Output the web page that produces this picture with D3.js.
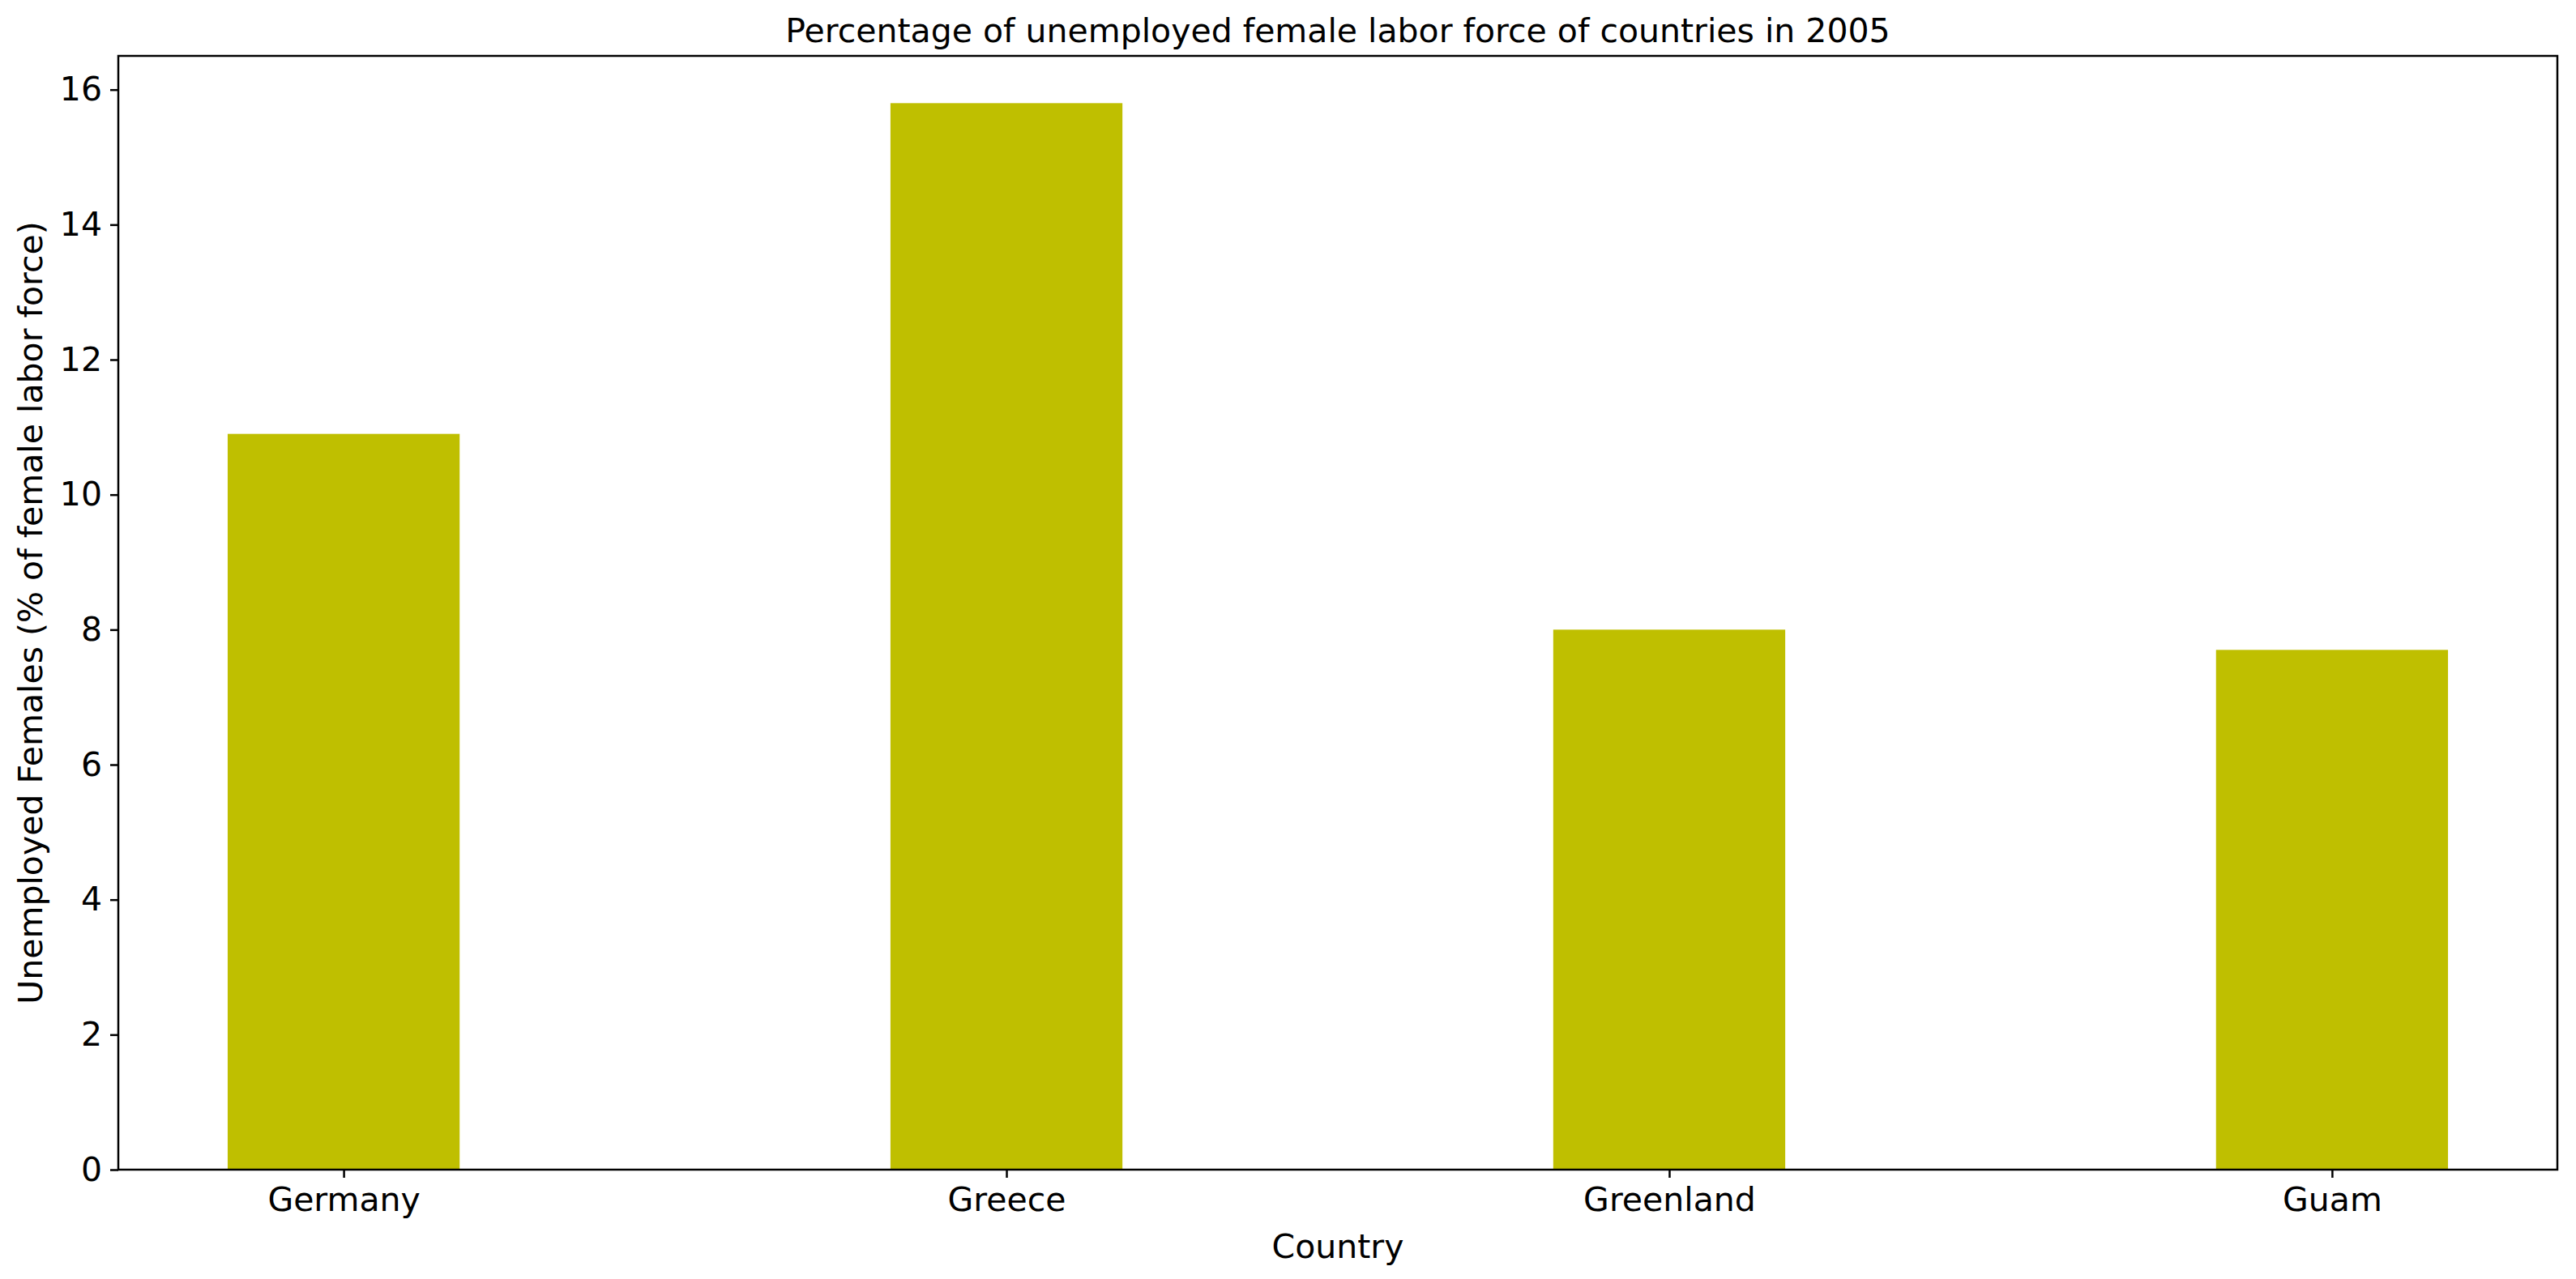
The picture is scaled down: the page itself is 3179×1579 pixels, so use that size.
<!DOCTYPE html>
<html>
<head>
<meta charset="utf-8">
<script src="https://cdn.jsdelivr.net/npm/d3@7"></script>
<style>
  body { margin: 0; background: white; }
  text { font-family: "DejaVu Sans", sans-serif; fill: black; }
</style>
</head>
<body>
<script>
// Data
const countries = ["Germany", "Greece", "Greenland", "Guam"];
const unemployed = [10.9, 15.8, 8.0, 7.7];
const yTicks = [0, 2, 4, 6, 8, 10, 12, 14, 16];

const W = 3179, H = 1579;
const margin = {left: 146, right: 23, top: 69, bottom: 135};
const innerW = W - margin.left - margin.right;
const innerH = H - margin.top - margin.bottom;

var svg = d3.select("body").append("svg")
            .attr("width", W)
            .attr("height", H);

var g = svg.append("g")
           .attr("transform", "translate(" + margin.left + "," + margin.top + ")");

// matplotlib-style positional x scale
var x = d3.scaleLinear().domain([-0.34, countries.length - 1 + 0.34]).range([0, innerW]);
var y = d3.scaleLinear().domain([0, 16.5]).range([innerH, 0]);
const barW = x(0.35) - x(0);

g.selectAll("rect.bar")
 .data(unemployed)
 .enter()
 .append("rect")
 .attr("class", "bar")
 .attr("x", function(d, i) { return x(i) - barW / 2; })
 .attr("y", function(d) { return y(d); })
 .attr("width", barW)
 .attr("height", function(d) { return innerH - y(d); })
 .style("fill", "#bfbf00");

var yAxis = g.append("g")
             .call(d3.axisLeft(y).tickValues(yTicks).tickSize(10).tickPadding(10).tickFormat(d3.format("d")));
var xAxis = g.append("g")
             .attr("transform", "translate(0," + innerH + ")")
             .call(d3.axisBottom(x).tickValues(d3.range(countries.length)).tickSize(10).tickPadding(12)
                     .tickFormat(function(i) { return countries[i]; }));

[xAxis, yAxis].forEach(function(a) {
    a.select(".domain").remove();
    a.selectAll("line").attr("stroke", "black").attr("stroke-width", 2.5);
    a.selectAll("text").attr("font-size", 41).style("font-family", "DejaVu Sans, sans-serif");
});

// frame
g.append("rect")
 .attr("width", innerW)
 .attr("height", innerH)
 .style("fill", "none")
 .style("stroke", "black")
 .style("stroke-width", 2.5);

svg.append("text")
   .attr("x", margin.left + innerW / 2)
   .attr("y", 52)
   .attr("text-anchor", "middle")
   .attr("font-size", 41)
   .text("Percentage of unemployed female labor force of countries in 2005");

svg.append("text")
   .attr("x", margin.left + innerW / 2)
   .attr("y", 1553)
   .attr("text-anchor", "middle")
   .attr("font-size", 41)
   .text("Country");

svg.append("text")
   .attr("transform", "translate(52," + (margin.top + innerH / 2) + ") rotate(-90)")
   .attr("text-anchor", "middle")
   .attr("font-size", 41)
   .text("Unemployed Females (% of female labor force)");
</script>
</body>
</html>
